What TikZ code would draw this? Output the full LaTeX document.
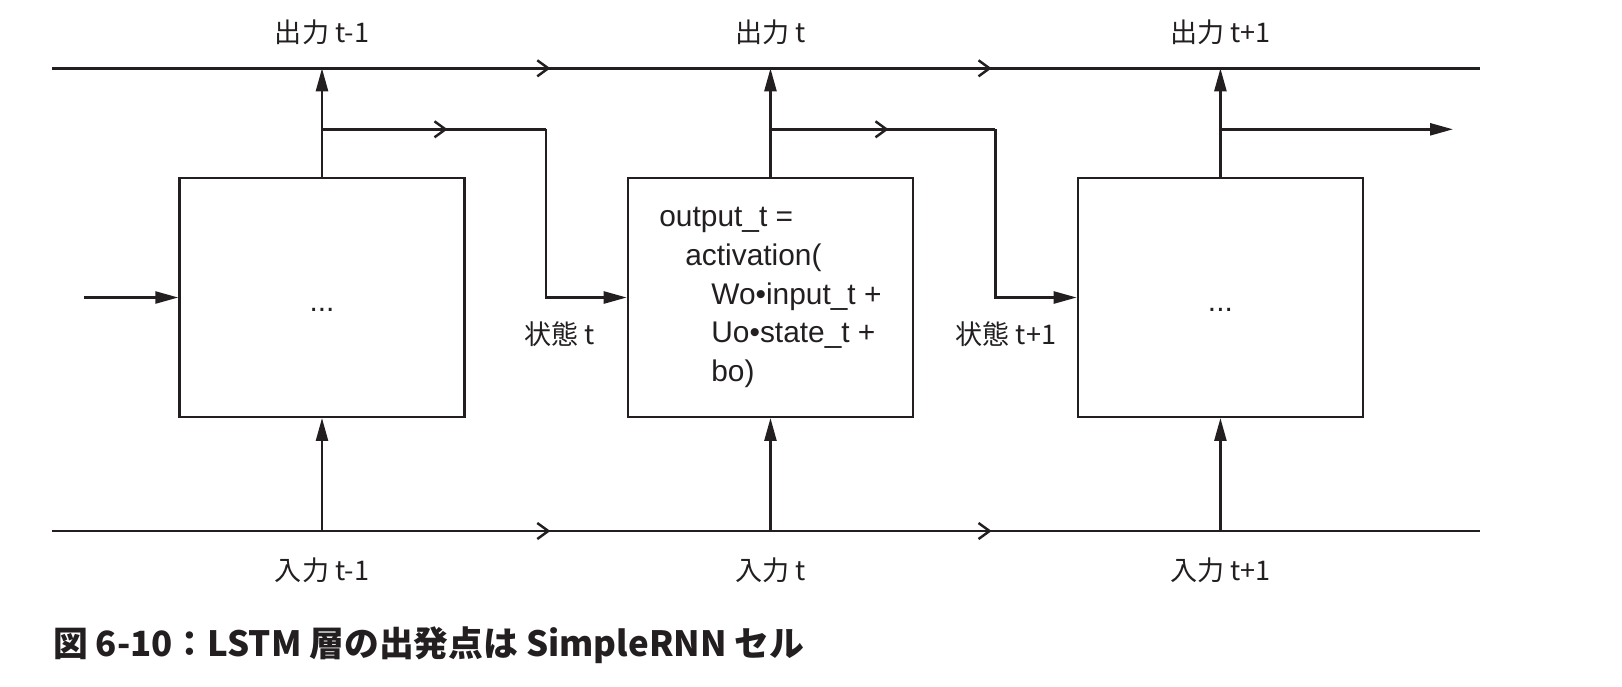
\documentclass[tikz,border=0pt]{standalone}
\usepackage{fontspec}
\setmainfont{Liberation Sans}
\newfontfamily\jpfont{Noto Sans CJK JP}
\usepackage{xcolor}
\usetikzlibrary{arrows.meta, positioning, calc, decorations.markings}
\definecolor{ink}{HTML}{231F20}

\begin{document}
\begin{tikzpicture}[
  x=1mm, y=-1mm, color=ink, line width=0.7pt,
  cell/.style={draw, minimum width=28.5mm, minimum height=23.85mm, inner sep=0pt, font=\fontsize{8.5}{11.05}\selectfont},
  dotcell/.style={cell, text height=2.8mm, text depth=0pt},
  lbl/.style={font=\jpfont\fontsize{7.7}{9}\selectfont},
  edge/.style={-{Triangle[length=2.3mm, width=1.2mm]}},
  flow/.style={postaction={decorate}, decoration={markings,
    mark=at position #1 with {\arrow{Straight Barb[length=1.1mm, width=1.6mm]}}}},
  rail/.style={postaction={decorate}, decoration={markings,
    mark=at position 0.349 with {\arrow{Straight Barb[length=1.1mm, width=1.6mm]}},
    mark=at position 0.658 with {\arrow{Straight Barb[length=1.1mm, width=1.6mm]}}}}
]
\useasboundingbox (0,0) rectangle (162.2,68.6);

\node[dotcell] (c1) at (32.2,29.75) {...};
\node[cell, right=16.1mm of c1, align=left] (c2) {output\_t =\\
  \hspace*{2.6mm}activation(\\
  \hspace*{5.2mm}Wo•input\_t +\\
  \hspace*{5.2mm}Uo•state\_t +\\
  \hspace*{5.2mm}bo)};
\node[dotcell, right=16.25mm of c2] (c3) {...};

\coordinate (top-l) at (5.2,6.83);
\coordinate (top-r) at (148,6.83);
\coordinate (bot-l) at (5.2,53.1);
\coordinate (bot-r) at (148,53.1);
\coordinate (outrow) at (0,3.2);
\coordinate (inrow) at (0,57);
\coordinate (staterow) at (0,12.93);
\coordinate (m1) at ($(c1.east)!0.5!(c2.west)$);
\coordinate (m2) at ($(c2.east)!0.5!(c3.west)$);
\coordinate (s-in) at (8.4,29.75);
\coordinate (s-out) at (145.3,12.93);

\draw[rail] (top-l) -- (top-r);
\draw[rail] (bot-l) -- (bot-r);

\foreach \i/\lab in {1/t-1,2/t,3/t+1} {
  \draw[edge] (c\i.north) -- (c\i.north |- top-l);
  \draw[edge] (c\i.south |- bot-l) -- (c\i.south);
  \coordinate (s\i) at (c\i.north |- staterow);
  \node[lbl] (out\i) at (c\i.north |- outrow) {出力 \lab};
  \node[lbl] (in\i) at (c\i.south |- inrow) {入力 \lab};
}

\draw[edge] (s-in) -- (c1.west);
\draw[flow=0.56] (s1) -- (m1 |- staterow);
\draw[edge] (m1 |- staterow) |- (c2.west);
\draw[flow=0.525] (s2) -- (m2 |- staterow);
\draw[edge] (m2 |- staterow) |- (c3.west);
\draw[edge] (s3) -- (s-out);

\node[lbl] (st2) at (56.0,33.4) {状態 t};
\node[lbl] (st3) at (100.6,33.4) {状態 t+1};

\node[anchor=west, inner sep=0pt, font=\jpfont\bfseries\fontsize{9.9}{12}\selectfont] (cap) at (5.2,64.5) {図 6-10：LSTM 層の出発点は SimpleRNN セル};
\end{tikzpicture}
\end{document}
